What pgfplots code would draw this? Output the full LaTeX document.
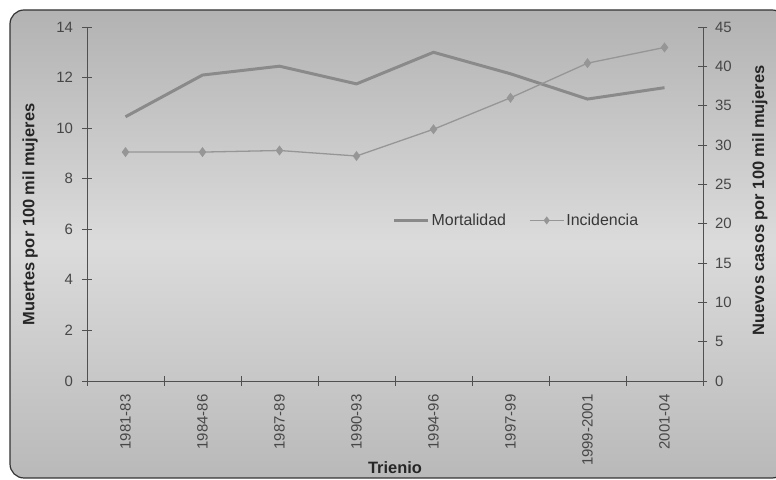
\documentclass[border=0pt]{standalone}
\usepackage{pgfplots}
\pgfplotsset{compat=1.18}
\usepackage{fontspec}
\setmainfont{Liberation Sans}
\definecolor{mortcol}{HTML}{8A8A8A}
\definecolor{inccol}{HTML}{969696}
\definecolor{axcol}{HTML}{505050}
\begin{document}
\begin{tikzpicture}
\useasboundingbox (0,0) rectangle (776bp,480bp);
\fill[white] (0,0) rectangle (776bp,480bp);
\begin{scope}
\clip (0,0) rectangle (776bp,480bp);
\shade[top color=gray!60, bottom color=gray!55, middle color=gray!28, rounded corners=14bp, draw=black!80, line width=1.2pt]
  (10bp,2bp) rectangle (786bp,470bp);
\end{scope}
\pgfplotsset{
  every axis/.style={
    scale only axis, width=616bp, height=354bp,
    at={(87bp,99bp)}, anchor=south west,
    axis line style={axcol, line width=0.9pt},
    tick style={axcol, line width=0.9pt},
    tick align=center, major tick length=9bp,
    tick label style={font=\fontsize{15}{17}\selectfont, text=black!72},
    label style={font=\bfseries\fontsize{16.5}{18}\selectfont, text=black!85},
    /pgf/number format/assume math mode=true,
    xmin=0, xmax=8,
  }
}
\begin{axis}[
  axis x line*=bottom, axis y line*=left,
  ymin=0, ymax=14, ytick={0,2,...,14},
  xtick={0,1,...,8}, xticklabels={},
  extra x ticks={0.5,1.5,...,7.5},
  extra x tick labels={1981-83,1984-86,1987-89,1990-93,1994-96,1997-99,1999-2001,2001-04},
  extra x tick style={major tick length=0pt, tick label style={rotate=90, anchor=east, xshift=-10bp}},
  xlabel={Trienio},
  xlabel style={at={(axis description cs:0.5,-0.246)}, anchor=center},
  ylabel={Muertes por 100 mil mujeres},
  ylabel style={at={(axis description cs:-0.0925,0.47)}, anchor=center},
  y tick label style={xshift=-6bp},
  legend style={at={(axis cs:3.97,6.35)}, anchor=west, draw=none, fill=none,
    legend columns=2, font=\fontsize{16}{18}\selectfont, text=black!78,
    inner sep=0pt, outer sep=0pt,
    /tikz/every even column/.append style={column sep=21bp}},
  legend image code/.code={\draw[#1] (0bp,0bp) -- (17bp,0bp) (17bp,0bp) -- (34bp,0bp); \path[#1, only marks] plot coordinates {(17bp,0bp)};},
]
\addplot[mortcol, line width=3pt, no marks] coordinates {
  (0.5,10.45) (1.5,12.1) (2.5,12.45) (3.5,11.75) (4.5,13.0) (5.5,12.15) (6.5,11.15) (7.5,11.6)
};
\addlegendentry{Mortalidad}
\addlegendimage{inccol, line width=1.3pt, mark=diamond*, mark size=3pt}
\addlegendentry{Incidencia}
\end{axis}
\begin{axis}[
  axis x line=none, axis y line*=right,
  ymin=0, ymax=45, ytick={0,5,...,45},
  ylabel={Nuevos casos por 100 mil mujeres},
  ylabel style={at={(axis description cs:1.0925,0.51)}, anchor=center},
  y tick label style={xshift=4bp},
]
\addplot[inccol, line width=1.3pt, mark=diamond*, mark size=4pt] coordinates {
  (0.5,29.1) (1.5,29.1) (2.5,29.3) (3.5,28.6) (4.5,32.0) (5.5,36.0) (6.5,40.4) (7.5,42.4)
};
\end{axis}
\end{tikzpicture}
\end{document}
